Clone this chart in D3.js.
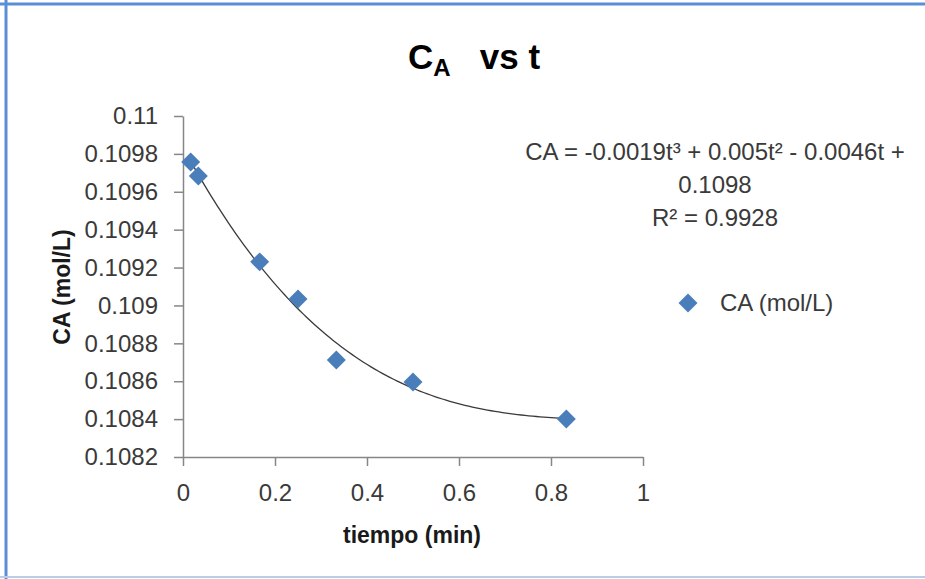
<!DOCTYPE html>
<html>
<head>
<meta charset="utf-8">
<script src="https://cdn.jsdelivr.net/npm/d3@7"></script>
<style>
  body { margin: 0; background: #fff; }
  text { font-family: "Liberation Sans", Arial, sans-serif; }
</style>
</head>
<body>
<div id="chart"></div>
<script>
// data
const tiempo = [0.0167, 0.0333, 0.1667, 0.25, 0.3333, 0.5, 0.8333];
const ca = [0.109757, 0.109683, 0.10923, 0.109034, 0.108712, 0.108596, 0.1084];
const xTicks = [0, 0.2, 0.4, 0.6, 0.8, 1];
const yTicks = [0.1082, 0.1084, 0.1086, 0.1088, 0.109, 0.1092, 0.1094, 0.1096, 0.1098, 0.11];
const eqLines = ['CA = -0.0019t\u00b3 + 0.005t\u00b2 - 0.0046t +', '0.1098', 'R\u00b2 = 0.9928'];
const seriesName = 'CA (mol/L)';

const W = 925, H = 579;
const blue = '#4a7ebb';

const svg = d3.select('#chart').append('svg')
  .attr('width', W)
  .attr('height', H);

// frame
svg.append('line').attr('x1', 0).attr('x2', W).attr('y1', 4).attr('y2', 4)
  .attr('stroke', '#5a8fd6').attr('stroke-width', 3);
svg.append('line').attr('x1', 6).attr('x2', 6).attr('y1', 0).attr('y2', H)
  .attr('stroke', '#5a8fd6').attr('stroke-width', 3);
svg.append('line').attr('x1', 0).attr('x2', W).attr('y1', 577).attr('y2', 577)
  .attr('stroke', '#b9cde5').attr('stroke-width', 2);

const x = d3.scaleLinear().domain([0, 1]).range([183, 643]);
const y = d3.scaleLinear().domain([0.1082, 0.11]).range([457, 116]);

// axes
const gx = svg.append('g')
  .attr('transform', 'translate(0,457)')
  .call(d3.axisBottom(x).tickValues(xTicks).tickFormat(d3.format('~g')).tickSize(9).tickSizeOuter(0).tickPadding(18));
const gy = svg.append('g')
  .attr('transform', 'translate(183,0)')
  .call(d3.axisLeft(y).tickValues(yTicks).tickFormat(d3.format('.4~f')).tickSize(9).tickSizeOuter(0).tickPadding(16));
[gx, gy].forEach(g => {
  g.select('.domain').attr('stroke', '#868686').attr('stroke-width', 1.5);
  g.selectAll('.tick line').attr('stroke', '#868686').attr('stroke-width', 1.5);
  g.selectAll('.tick text').attr('fill', '#3a3a3a').style('font-size', '24px');
});

// cubic trendline, least squares on the points
function polyfit(xs, ys, deg) {
  const n = deg + 1;
  const A = [];
  for (let i = 0; i < n; i++) {
    A.push([]);
    for (let j = 0; j < n; j++) A[i].push(d3.sum(xs, v => Math.pow(v, i + j)));
    A[i].push(d3.sum(xs, (v, k) => Math.pow(v, i) * ys[k]));
  }
  for (let c = 0; c < n; c++) {
    let p = c;
    for (let r = c + 1; r < n; r++) if (Math.abs(A[r][c]) > Math.abs(A[p][c])) p = r;
    [A[c], A[p]] = [A[p], A[c]];
    for (let r = 0; r < n; r++) {
      if (r === c) continue;
      const f = A[r][c] / A[c][c];
      for (let k = c; k <= n; k++) A[r][k] -= f * A[c][k];
    }
  }
  return A.map((row, i) => row[n] / row[i]);
}
const coef = polyfit(tiempo, ca, 3);
const fit = t => coef.reduce((s, c, i) => s + c * Math.pow(t, i), 0);
const tFit = d3.range(0, 101).map(i => tiempo[0] + (tiempo[tiempo.length - 1] - tiempo[0]) * i / 100);

svg.append('path')
  .datum(tFit)
  .attr('fill', 'none')
  .attr('stroke', '#3a3a3a')
  .attr('stroke-width', 1.3)
  .attr('d', d3.line().x(d => x(d)).y(d => y(fit(d))));

// points
const diamond = d3.symbol().type(d3.symbolSquare).size(180);
svg.append('g').selectAll('path')
  .data(tiempo)
  .join('path')
  .attr('d', diamond)
  .attr('transform', (d, i) => `translate(${x(d)},${y(ca[i])}) rotate(45)`)
  .attr('fill', blue);

// title
const title = svg.append('text')
  .attr('x', 474).attr('y', 69)
  .attr('text-anchor', 'middle')
  .style('font-size', '35px').style('font-weight', 'bold').attr('fill', '#000');
title.append('tspan').text('C');
title.append('tspan').attr('dy', 7).style('font-size', '24px').text('A');
title.append('tspan').attr('dy', -7).text('\u00a0\u00a0\u00a0vs t');

// axis titles
svg.append('text')
  .attr('x', 412).attr('y', 543)
  .attr('text-anchor', 'middle')
  .style('font-size', '23px').style('font-weight', 'bold').attr('fill', '#1a1a1a')
  .text('tiempo (min)');
svg.append('text')
  .attr('transform', 'translate(70,287) rotate(-90)')
  .attr('text-anchor', 'middle')
  .style('font-size', '23px').style('font-weight', 'bold').attr('fill', '#1a1a1a')
  .text(seriesName);

// equation
svg.append('g').selectAll('text')
  .data(eqLines)
  .join('text')
  .attr('x', 715)
  .attr('y', (d, i) => 160 + i * 33)
  .attr('text-anchor', 'middle')
  .style('font-size', '24px').attr('fill', '#3a3a3a')
  .text(d => d);

// legend
svg.append('path')
  .attr('d', diamond)
  .attr('transform', 'translate(688,303) rotate(45)')
  .attr('fill', blue);
svg.append('text')
  .attr('x', 720).attr('y', 311)
  .style('font-size', '24px').attr('fill', '#3a3a3a')
  .text(seriesName);
</script>
</body>
</html>
